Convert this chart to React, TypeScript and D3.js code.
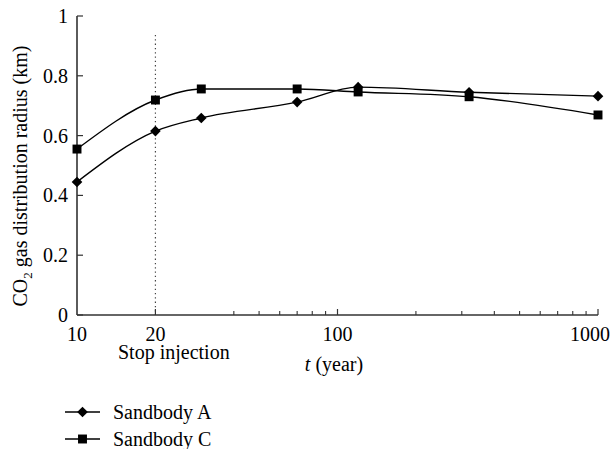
import React, { useRef, useEffect } from 'react';
import * as d3 from 'd3';

const years = [10, 20, 30, 70, 120, 320, 1000];
const sandbodyA = [0.445, 0.615, 0.659, 0.712, 0.762, 0.745, 0.732];
const sandbodyC = [0.555, 0.719, 0.756, 0.756, 0.746, 0.73, 0.669];
const seriesNames = ['Sandbody A', 'Sandbody C'];
const yTicks = [0, 0.2, 0.4, 0.6, 0.8, 1];
const xMajorTicks = [10, 20, 100, 1000];
const xMinorTicks = [40, 50, 60, 70, 80, 90, 200, 300, 400, 500, 600, 700, 800, 900];
const stopYear = 20;

const W = 612;
const H = 449;
const FONT = '"Liberation Serif", "DejaVu Serif", serif';

const App = () => {
    const svgRef = useRef<SVGSVGElement>(null);

    useEffect(() => {
        const svg = d3.select(svgRef.current);
        svg.selectAll('*').remove();

        const x = d3.scaleLog().domain([10, 1000]).range([77, 598]);
        const y = d3.scaleLinear().domain([0, 1]).range([315, 16]);

        const g = svg.append('g').style('font-family', FONT).style('font-size', '20px');

        // dotted line where injection stops
        g.append('line')
            .attr('x1', x(stopYear)).attr('x2', x(stopYear))
            .attr('y1', 35).attr('y2', y(0))
            .attr('stroke', '#444')
            .attr('stroke-width', 1.2)
            .attr('stroke-dasharray', '1.3,3');

        // axes
        const axisColor = '#333';
        g.append('line')
            .attr('x1', x(10)).attr('x2', x(1000))
            .attr('y1', y(0)).attr('y2', y(0))
            .attr('stroke', axisColor).attr('stroke-width', 1.6);
        g.append('line')
            .attr('x1', x(10)).attr('x2', x(10))
            .attr('y1', y(0)).attr('y2', y(1))
            .attr('stroke', axisColor).attr('stroke-width', 1.6);

        g.selectAll('.ytick')
            .data(yTicks)
            .join('line')
            .attr('class', 'ytick')
            .attr('x1', x(10)).attr('x2', x(10) + 6)
            .attr('y1', d => y(d)).attr('y2', d => y(d))
            .attr('stroke', axisColor).attr('stroke-width', 1.2);
        g.selectAll('.ylabel')
            .data(yTicks)
            .join('text')
            .attr('class', 'ylabel')
            .attr('x', x(10) - 9)
            .attr('y', d => y(d))
            .attr('dy', '0.35em')
            .attr('text-anchor', 'end')
            .text(d => String(d));

        g.selectAll('.xtick')
            .data(xMajorTicks.slice(1))
            .join('line')
            .attr('class', 'xtick')
            .attr('x1', d => x(d)).attr('x2', d => x(d))
            .attr('y1', y(0)).attr('y2', y(0) - 6)
            .attr('stroke', axisColor).attr('stroke-width', 1.2);
        g.selectAll('.xminor')
            .data(xMinorTicks)
            .join('line')
            .attr('class', 'xminor')
            .attr('x1', d => x(d)).attr('x2', d => x(d))
            .attr('y1', y(0)).attr('y2', y(0) - 4)
            .attr('stroke', axisColor).attr('stroke-width', 1.1);
        // the last label sits against the right edge, as in the original
        g.selectAll('.xlabel')
            .data(xMajorTicks)
            .join('text')
            .attr('class', 'xlabel')
            .attr('x', d => (d === 1000 ? W - 2 : x(d)))
            .attr('y', 341)
            .attr('text-anchor', d => (d === 1000 ? 'end' : 'middle'))
            .text(d => String(d));

        g.append('text')
            .attr('x', 118)
            .attr('y', 359)
            .text('Stop injection');

        const xt = g.append('text')
            .attr('x', 334)
            .attr('y', 371)
            .attr('text-anchor', 'middle');
        xt.append('tspan').attr('font-style', 'italic').text('t');
        xt.append('tspan').text(' (year)');

        const yt = g.append('text')
            .attr('transform', 'translate(27,176) rotate(-90)')
            .attr('text-anchor', 'middle');
        yt.append('tspan').text('CO');
        yt.append('tspan').attr('font-size', '13px').attr('dy', 5).text('2');
        yt.append('tspan').attr('dy', -5).text(' gas distribution radius (km)');

        // series
        const lineGen = d3.line<number>()
            .x((_, i) => x(years[i]))
            .y(d => y(d))
            .curve(d3.curveMonotoneX);

        const all = [sandbodyA, sandbodyC];
        g.selectAll('.series')
            .data(all)
            .join('path')
            .attr('class', 'series')
            .attr('d', d => lineGen(d))
            .attr('fill', 'none')
            .attr('stroke', '#000')
            .attr('stroke-width', 1.4);

        const diamond = d3.symbol().type(d3.symbolDiamond2).size(72)();
        const square = d3.symbol().type(d3.symbolSquare).size(80)();

        g.selectAll('.markA')
            .data(sandbodyA)
            .join('path')
            .attr('class', 'markA')
            .attr('d', diamond)
            .attr('transform', (d, i) => `translate(${x(years[i])},${y(d)})`)
            .attr('fill', '#000');
        g.selectAll('.markC')
            .data(sandbodyC)
            .join('path')
            .attr('class', 'markC')
            .attr('d', square)
            .attr('transform', (d, i) => `translate(${x(years[i])},${y(d)})`)
            .attr('fill', '#000');

        // legend
        const legend = g.selectAll('.legend')
            .data(seriesNames)
            .join('g')
            .attr('class', 'legend')
            .attr('transform', (_, i) => `translate(65,${412 + i * 27})`);
        legend.append('line')
            .attr('x1', 0).attr('x2', 35)
            .attr('stroke', '#000').attr('stroke-width', 1.4);
        legend.append('path')
            .attr('d', (_, i) => (i === 0 ? diamond : square))
            .attr('transform', 'translate(17.5,0)')
            .attr('fill', '#000');
        legend.append('text')
            .attr('x', 48)
            .attr('dy', '0.35em')
            .text(d => d);
    }, []);

    return (
        <svg
            ref={svgRef}
            width={W}
            height={H}
            style={{ position: 'absolute', left: 0, top: 0, background: '#fff' }}
        />
    );
};

export default App;
